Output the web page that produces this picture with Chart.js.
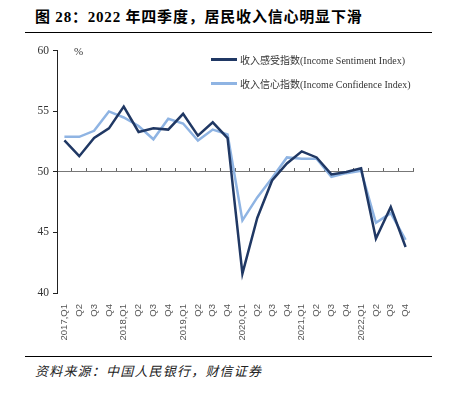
<!DOCTYPE html>
<html>
<head>
<meta charset="utf-8">
<script src="https://cdn.jsdelivr.net/npm/chart.js@4/dist/chart.umd.min.js"></script>
<style>
  html, body { margin:0; padding:0; background:#fff; }
  body { width:451px; height:397px; position:relative; overflow:hidden; }
  .title { position:absolute; left:35px; top:5px; font:bold 15px "Liberation Serif","Noto Sans CJK SC",serif; letter-spacing:0.8px; color:#000; white-space:nowrap; }
  .rule { position:absolute; left:25px; width:407px; height:0; border-top:1.5px solid #000; }
  .source { position:absolute; left:35px; top:361px; font:italic 13px "Noto Sans CJK SC",sans-serif; letter-spacing:1.2px; color:#222; white-space:nowrap; }
  #wrap { position:absolute; left:0; top:40px; width:451px; height:305px; }
  .legend { position:absolute; left:211px; font:10px "Liberation Serif","Noto Sans CJK SC",serif; color:#333; white-space:nowrap; display:flex; align-items:center; }
  .legend i { display:inline-block; width:26px; height:3px; margin-right:3px; }
</style>
</head>
<body>
<div class="title">图 28：2022 年四季度，居民收入信心明显下滑</div>
<div class="rule" style="top:32px"></div>
<div id="wrap"><canvas id="c" width="451" height="305"></canvas></div>
<div class="legend" style="top:52px"><i style="background:#203864"></i>收入感受指数(Income Sentiment Index)</div>
<div class="legend" style="top:76px"><i style="background:#8fb4e3"></i>收入信心指数(Income Confidence Index)</div>
<div class="rule" style="top:356px"></div>
<div class="source">资料来源：中国人民银行，财信证券</div>
<script>
// quarters 2017Q1 .. 2022Q4
const labels = ['2017,Q1','Q2','Q3','Q4','2018,Q1','Q2','Q3','Q4','2019,Q1','Q2','Q3','Q4',
  '2020,Q1','Q2','Q3','Q4','2021,Q1','Q2','Q3','Q4','2022,Q1','Q2','Q3','Q4']
const sentiment = [52.6,51.3,52.8,53.6,55.4,53.3,53.6,53.5,54.8,53.0,54.1,52.8,
  41.6,46.2,49.3,50.7,51.7,51.2,49.8,50.0,50.3,44.5,47.1,43.8]
const confidence = [52.9,52.9,53.4,55.0,54.5,53.8,52.7,54.4,54.0,52.6,53.5,53.1,
  46.0,47.9,49.5,51.2,51.1,51.1,49.6,49.9,50.1,45.8,46.6,44.4]

const pctLabel = {
  id:'pctLabel',
  afterDraw(chart){
    const {ctx, chartArea} = chart
    ctx.save()
    ctx.font = '11px "Liberation Serif", serif'
    ctx.fillStyle = '#333'
    ctx.textBaseline = 'middle'
    ctx.fillText('%', chartArea.left + 17, chartArea.top + 1)
    ctx.restore()
  }
}

new Chart(document.getElementById('c'), {
  type:'line',
  data:{ labels, datasets:[
    { label:'收入感受指数(Income Sentiment Index)', data:sentiment, borderColor:'#203864', borderWidth:2.5, pointRadius:0, tension:0 },
    { label:'收入信心指数(Income Confidence Index)', data:confidence, borderColor:'#8fb4e3', borderWidth:2.5, pointRadius:0, tension:0 }
  ]},
  plugins:[pctLabel],
  options:{
    responsive:false, animation:false,
    devicePixelRatio:1,
    layout:{ padding:{ top:10, right:38, left:0, bottom:0 } },
    plugins:{ legend:{ display:false }, tooltip:{ enabled:false } },
    scales:{
      x:{
        offset:true,
        grid:{ display:false },
        border:{ display:false },
        ticks:{ autoSkip:false, minRotation:90, maxRotation:90, padding:3, color:'#555', font:{ family:'"Liberation Sans", Arial, sans-serif', size:9.5 } },
        afterFit(s){ s.height = 52 }
      },
      x2:{
        type:'category',
        position:{ y:50 },
        offset:true,
        grid:{ offset:true, drawOnChartArea:false, tickLength:-4, color:'#666' },
        border:{ color:'#777', width:1 },
        ticks:{ display:false }
      },
      y:{
        min:40, max:60,
        ticks:{ stepSize:5, padding:4, color:'#333', font:{ family:'"Liberation Serif", serif', size:11.5 } },
        grid:{ drawOnChartArea:false, tickLength:4, color:'#222' },
        border:{ color:'#222', width:1 },
        afterFit(s){ s.width = 57 }
      }
    }
  }
})
</script>
</body>
</html>
